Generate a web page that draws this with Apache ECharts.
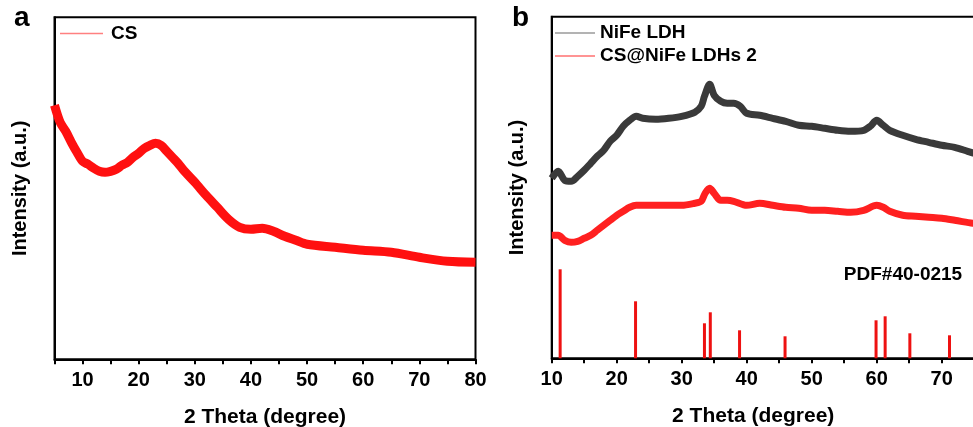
<!DOCTYPE html>
<html>
<head>
<meta charset="utf-8">
<script src="https://cdn.jsdelivr.net/npm/echarts@6/dist/echarts.min.js"></script>
<style>
html,body{margin:0;padding:0;background:#fff;}
#chart{width:973px;height:427px;}
</style>
</head>
<body>
<div id="chart"></div>
<script>
// Panel a: CS (2theta, intensity in arbitrary units)
const csTheta = [5,6,7,8,9,10,11,12,13,14,15,16,17,18,19,20,21,22,23,24,25,26,27,28,30,32,34,36,38,40,42,44,46,48,50,55,60,65,70,75,80];
const csIntensity = [254,237,228,217,207,198,195,191,188,187,188,190,194,197,202,206,211,214,216,214,208,202,196,189,177,164,152,140,132,130,131,128,123,119,115,112,109,107,102,98,97];

// Panel b: NiFe LDH
const ldhTheta = [10,11,12,13,14,15,16,17,18,19,20,21,22,23,24,26,28,30,32,33,33.5,34.3,35,36,37,38,39,40,42,44,46,48,50,52,54,56,58,59,60,61,62,64,66,68,70,72,74,76];
const ldhIntensity = [180,187,178,177,182,188,195,202,208,217,223,232,238,242,240,239,240,242,246,252,262,274,263,257,255,255,252,245,243,240,237,233,232,230,228,227,228,232,238,233,228,223,219,216,213,211,207,203];

// Panel b: CS@NiFe LDHs 2
const compTheta = [10,11,12,13,14,15,16,17,18,19,20,21,22,23,24,26,28,30,32,33,33.6,34.3,35,36,37,38,40,42,44,46,48,50,52,54,56,58,60,61,62,64,66,68,70,72,74.8,76];
const compIntensity = [123,123,118,116,117,120,123,128,133,138,143,147,151,153,153,153,153,153,155,157,165,170,165,158,158,157,153,155,153,151,150,148,148,147,146,148,153,151,147,143,142,141,140,138,135,134];

// Panel b: reference pattern PDF#40-0215 (stick positions and relative heights)
const pdfTheta = [11.3,22.9,33.5,34.4,38.9,45.9,59.9,61.3,65.1,71.2];
const pdfHeight = [89,57,35,46,28,22,38,42,25,23];

const xTicksA = {min:5, max:80, interval:5};
const xTicksB = {min:10, max:80, interval:5};

function pairs(xs, ys){ return xs.map((x,i)=>[x, ys[i]]); }

const font = '"Liberation Sans", Arial, sans-serif';
const tickLabel = {show:true, color:'#000', fontFamily:font, fontWeight:'bold', fontSize:20, margin:11,
  formatter: v => (v % 10 === 0 ? String(v) : '')};
const axisTick = {show:true, inside:false, length:5, lineStyle:{color:'#000', width:2}};

const chart = echarts.init(document.getElementById('chart'), null, {renderer:'canvas'});
chart.setOption({
  backgroundColor:'#fff',
  animation:false,
  grid:[
    {left:54.5, top:17.3, width:421, height:342, show:true, borderColor:'#000', borderWidth:2, containLabel:false, outerBoundsMode:'none'},
    {left:551.7, top:16.7, width:455, height:341.6, show:true, borderColor:'#000', borderWidth:2, containLabel:false, outerBoundsMode:'none'}
  ],
  legend:[
    {left:60, top:24, padding:0, icon:'rect', itemWidth:43, itemHeight:1.5, itemGap:4,
     textStyle:{color:'#000', fontFamily:font, fontWeight:'bold', fontSize:19, padding:[0,0,0,3]},
     data:[{name:'CS', itemStyle:{color:'#ff8080'}}]},
    {left:555, top:23, padding:0, orient:'vertical', icon:'rect', itemWidth:40, itemHeight:1.5, itemGap:3,
     textStyle:{color:'#000', fontFamily:font, fontWeight:'bold', fontSize:19, lineHeight:20, padding:[0,0,0,0]},
     data:[{name:'NiFe LDH', itemStyle:{color:'#9a9a9a'}},{name:'CS@NiFe LDHs 2', itemStyle:{color:'#ff7070'}}]}
  ],
  xAxis:[
    {gridIndex:0, type:'value', min:xTicksA.min, max:xTicksA.max, interval:xTicksA.interval,
     name:'2 Theta (degree)', nameLocation:'middle', nameGap:47,
     nameTextStyle:{color:'#000', fontFamily:font, fontWeight:'bold', fontSize:21},
     axisLine:{show:true, onZero:false, lineStyle:{color:'#000', width:2}},
     axisTick:axisTick, axisLabel:tickLabel, splitLine:{show:false}},
    {gridIndex:1, type:'value', min:xTicksB.min, max:xTicksB.max, interval:xTicksB.interval,
     name:'2 Theta (degree)', nameLocation:'middle', nameGap:47,
     nameTextStyle:{color:'#000', fontFamily:font, fontWeight:'bold', fontSize:21, padding:[0,52,0,0]},
     axisLine:{show:true, onZero:false, lineStyle:{color:'#000', width:2}},
     axisTick:axisTick, axisLabel:tickLabel, splitLine:{show:false}}
  ],
  yAxis:[
    {gridIndex:0, type:'value', min:0, max:342,
     name:'Intensity (a.u.)', nameLocation:'middle', nameGap:24, nameRotate:90,
     nameTextStyle:{color:'#000', fontFamily:font, fontWeight:'bold', fontSize:20},
     axisLine:{show:true, lineStyle:{color:'#000', width:2}}, axisTick:{show:false}, axisLabel:{show:false}, splitLine:{show:false}},
    {gridIndex:1, type:'value', min:0, max:341.6,
     name:'Intensity (a.u.)', nameLocation:'middle', nameGap:24, nameRotate:90,
     nameTextStyle:{color:'#000', fontFamily:font, fontWeight:'bold', fontSize:20},
     axisLine:{show:true, lineStyle:{color:'#000', width:2}}, axisTick:{show:false}, axisLabel:{show:false}, splitLine:{show:false}}
  ],
  series:[
    {name:'CS', type:'line', xAxisIndex:0, yAxisIndex:0, data:pairs(csTheta, csIntensity),
     showSymbol:false, smooth:0.3, clip:true, lineStyle:{color:'#ff1010', width:9}, itemStyle:{color:'#ff1010'}},
    {name:'NiFe LDH', type:'line', xAxisIndex:1, yAxisIndex:1, data:pairs(ldhTheta, ldhIntensity),
     showSymbol:false, smooth:0.3, clip:true, lineStyle:{color:'#3a3a3a', width:7}, itemStyle:{color:'#3a3a3a'}},
    {name:'CS@NiFe LDHs 2', type:'line', xAxisIndex:1, yAxisIndex:1, data:pairs(compTheta, compIntensity),
     showSymbol:false, smooth:0.3, clip:true, lineStyle:{color:'#ff2020', width:7}, itemStyle:{color:'#ff2020'}},
    {name:'PDF#40-0215', type:'bar', xAxisIndex:1, yAxisIndex:1, data:pairs(pdfTheta, pdfHeight),
     barWidth:3, itemStyle:{color:'#ee1111'}, legendHoverLink:false}
  ],
  graphic:[
    {type:'text', left:14, top:4, style:{text:'a', fill:'#000', font:'bold 28px '+font}},
    {type:'text', left:512, top:4, style:{text:'b', fill:'#000', font:'bold 28px '+font}},
    {type:'text', x:903, y:275, style:{text:'PDF#40-0215', fill:'#000', font:'bold 19px '+font, align:'center', verticalAlign:'middle'}}
  ]
});
</script>
</body>
</html>
